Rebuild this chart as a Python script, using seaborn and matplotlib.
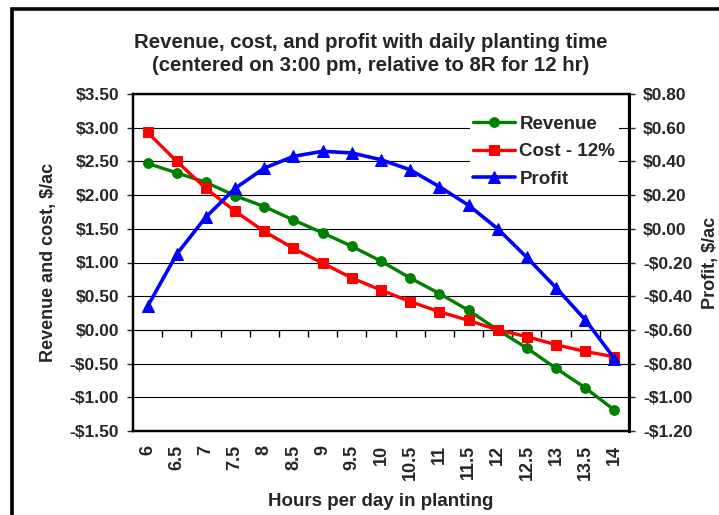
import numpy as np
import pandas as pd
import seaborn as sns
import matplotlib.pyplot as plt
from matplotlib.patches import Rectangle

# Values
hours = [6, 6.5, 7, 7.5, 8, 8.5, 9, 9.5, 10, 10.5, 11, 11.5, 12, 12.5, 13, 13.5, 14]
hour_labels = ["6", "6.5", "7", "7.5", "8", "8.5", "9", "9.5", "10", "10.5",
               "11", "11.5", "12", "12.5", "13", "13.5", "14"]
revenue = [2.47, 2.33, 2.19, 1.99, 1.83, 1.63, 1.44, 1.24, 1.02, 0.77, 0.54,
           0.29, 0.00, -0.27, -0.57, -0.86, -1.19]
cost = [2.93, 2.50, 2.10, 1.76, 1.46, 1.21, 0.99, 0.77, 0.59, 0.42, 0.27,
        0.14, 0.00, -0.10, -0.22, -0.32, -0.40]
profit = [-0.46, -0.15, 0.07, 0.24, 0.36, 0.43, 0.46, 0.45, 0.41, 0.35, 0.25,
          0.14, 0.00, -0.17, -0.35, -0.54, -0.77]

left_ticks = [-1.5, -1.0, -0.5, 0.0, 0.5, 1.0, 1.5, 2.0, 2.5, 3.0, 3.5]
right_ticks = [-1.2, -1.0, -0.8, -0.6, -0.4, -0.2, 0.0, 0.2, 0.4, 0.6, 0.8]

df = pd.DataFrame({"hours": hours, "revenue": revenue, "cost": cost, "profit": profit})

sns.set_style("white")
plt.rcParams['font.family'] = ['Liberation Sans', 'DejaVu Sans']
plt.rcParams['font.weight'] = 'bold'

def money(v):
    return f"-${abs(v):.2f}" if v < 0 else f"${v:.2f}"

fig = plt.figure(figsize=(7.19, 5.15), dpi=100)
ax = fig.add_axes([133 / 719, 1 - 431 / 515, 496 / 719, 337 / 515])
ax2 = ax.twinx()

# Outer chart frame (cut off at right and bottom in the reference)
fig.patches.append(Rectangle((11.5 / 719, -0.1), 1.2, 1.1 - 9 / 515, transform=fig.transFigure,
                             fill=False, edgecolor='black', linewidth=2.6, clip_on=False))

sns.lineplot(data=df, x="hours", y="revenue", ax=ax, color='#008000', marker='o',
             markersize=7, markeredgecolor='#008000', linewidth=2.4, label='Revenue', legend=False)
sns.lineplot(data=df, x="hours", y="cost", ax=ax, color='#FF0000', marker='s',
             markersize=7.5, markeredgecolor='#FF0000', linewidth=2.4, label='Cost - 12%', legend=False)
sns.lineplot(data=df, x="hours", y="profit", ax=ax2, color='#0000FF', marker='^',
             markersize=8, markeredgecolor='#0000FF', linewidth=2.6, label='Profit', legend=False)

ax.set_xlim(5.75, 14.25)
ax.set_ylim(-1.5, 3.5)
ax2.set_ylim(-1.2, 0.8)

ax.set_yticks(left_ticks)
ax.set_yticklabels([money(v) for v in left_ticks])
ax2.set_yticks(right_ticks)
ax2.set_yticklabels([money(v) for v in right_ticks])
ax.set_xticks(hours)
ax.set_xticklabels(hour_labels, rotation=90)

ax.grid(axis='y', color='black', linewidth=0.8)
ax.set_axisbelow(True)

ax.tick_params(axis='y', left=True, length=4, width=1, direction='out', pad=6,
               labelsize=12.5)
ax.tick_params(axis='x', bottom=False, length=0, pad=10, labelsize=13)
ax2.tick_params(axis='y', right=True, length=4, width=1, direction='out', pad=6,
                labelsize=12.5)
for t in ax.get_yticklabels() + ax.get_xticklabels() + ax2.get_yticklabels():
    t.set_fontweight('bold')

for a in (ax, ax2):
    for s in a.spines.values():
        s.set_color('black')
        s.set_linewidth(1.6)
ax2.spines['right'].set_linewidth(2.2)

# category axis crosses at $0.00 with tick marks between categories
sec = ax.secondary_xaxis(1.5 / 5)
sec.set_xticks([h + 0.25 for h in hours[:-1]])
sec.set_xticklabels([])
sec.tick_params(axis='x', length=5, width=1, direction='out', colors='black')
sec.spines['bottom'].set_linewidth(0.8)

ax.set_xlabel("Hours per day in planting", fontsize=13.5, fontweight='bold', labelpad=9)
ax.set_ylabel("Revenue and cost, $/ac", fontsize=13, fontweight='bold')
ax.yaxis.set_label_coords((57 - 133) / 496, 0.5)
ax2.set_ylabel("Profit, $/ac", fontsize=13, fontweight='bold', rotation=90)
ax2.yaxis.set_label_coords((702 - 133) / 496, 0.5)

fig.text(0.515, 1 - 54 / 515,
         "Revenue, cost, and profit with daily planting time\n(centered on 3:00 pm, relative to 8R for 12 hr)",
         ha='center', va='center', fontsize=14.7, fontweight='bold', linespacing=1.25)

h1, l1 = ax.get_legend_handles_labels()
h2, l2 = ax2.get_legend_handles_labels()
leg = ax2.legend(h1 + h2, l1 + l2, loc='upper left', bbox_to_anchor=(0.66, 0.975),
                 frameon=True, framealpha=1, edgecolor='none', fancybox=False,
                 handlelength=2.2, handletextpad=0.25, labelspacing=0.55, borderpad=0.2,
                 prop={'weight': 'bold', 'size': 13.5})
leg.set_zorder(2)

plt.savefig("out.png", dpi=100)
plt.close()
